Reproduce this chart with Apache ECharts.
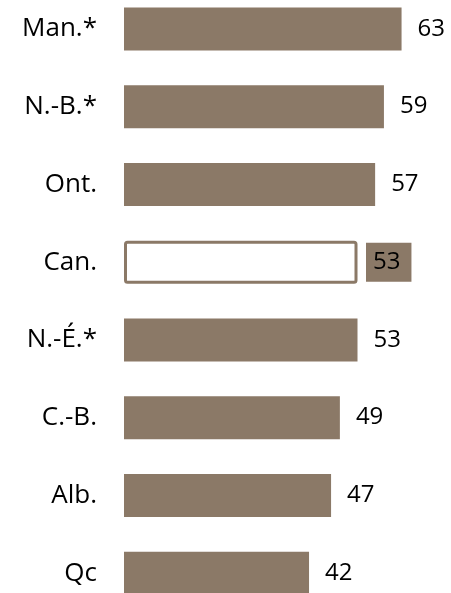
<!DOCTYPE html>
<html>
<head>
<meta charset="utf-8">
<script src="https://cdn.jsdelivr.net/npm/echarts@6/dist/echarts.min.js"></script>
<style>
  html, body { margin: 0; padding: 0; background: #fff; overflow: hidden; }
  /* the plot runs a little past the top and bottom edges of the window */
  #chart { width: 451px; height: 622px; position: relative; top: -10px; }
</style>
</head>
<body>
<div id="chart"></div>
<script>
// provinces, top to bottom
let categories = ['Man.*', 'N.-B.*', 'Ont.', 'Can.', 'N.-É.*', 'C.-B.', 'Alb.', 'Qc']
let values = [63, 59, 57, 53, 53, 49, 47, 42]
let highlight = 'Can.'

let brown = '#8b7967'

let chart = echarts.init(document.getElementById('chart'))

let barData = values.map(function (v, i) {
  if (categories[i] == highlight) {
    return {
      value: v,
      itemStyle: { color: '#fff', borderColor: brown, borderWidth: 3, borderRadius: 2 },
      label: {
        backgroundColor: brown,
        lineHeight: 24,
        padding: [8, 11, 7, 7],
        distance: 8.5
      }
    }
  }
  return v
})

let option = {
  animation: false,
  grid: {
    left: 124,
    right: 18.6,
    top: 0,
    bottom: 0,
    containLabel: false
  },
  xAxis: {
    type: 'value',
    min: 0,
    max: 70,
    show: false
  },
  yAxis: {
    type: 'category',
    data: categories,
    inverse: true,
    axisLine: { show: false },
    axisTick: { show: false },
    splitLine: { show: false },
    axisLabel: {
      margin: 27,
      color: '#000',
      fontSize: 26,
      fontFamily: 'Open Sans'
    }
  },
  series: [
    {
      type: 'bar',
      barWidth: 43,
      itemStyle: { color: brown },
      label: {
        show: true,
        position: 'right',
        distance: 16,
        color: '#000',
        fontSize: 24,
        fontFamily: 'Open Sans'
      },
      data: barData
    }
  ]
}
chart.setOption(option)
</script>
</body>
</html>
